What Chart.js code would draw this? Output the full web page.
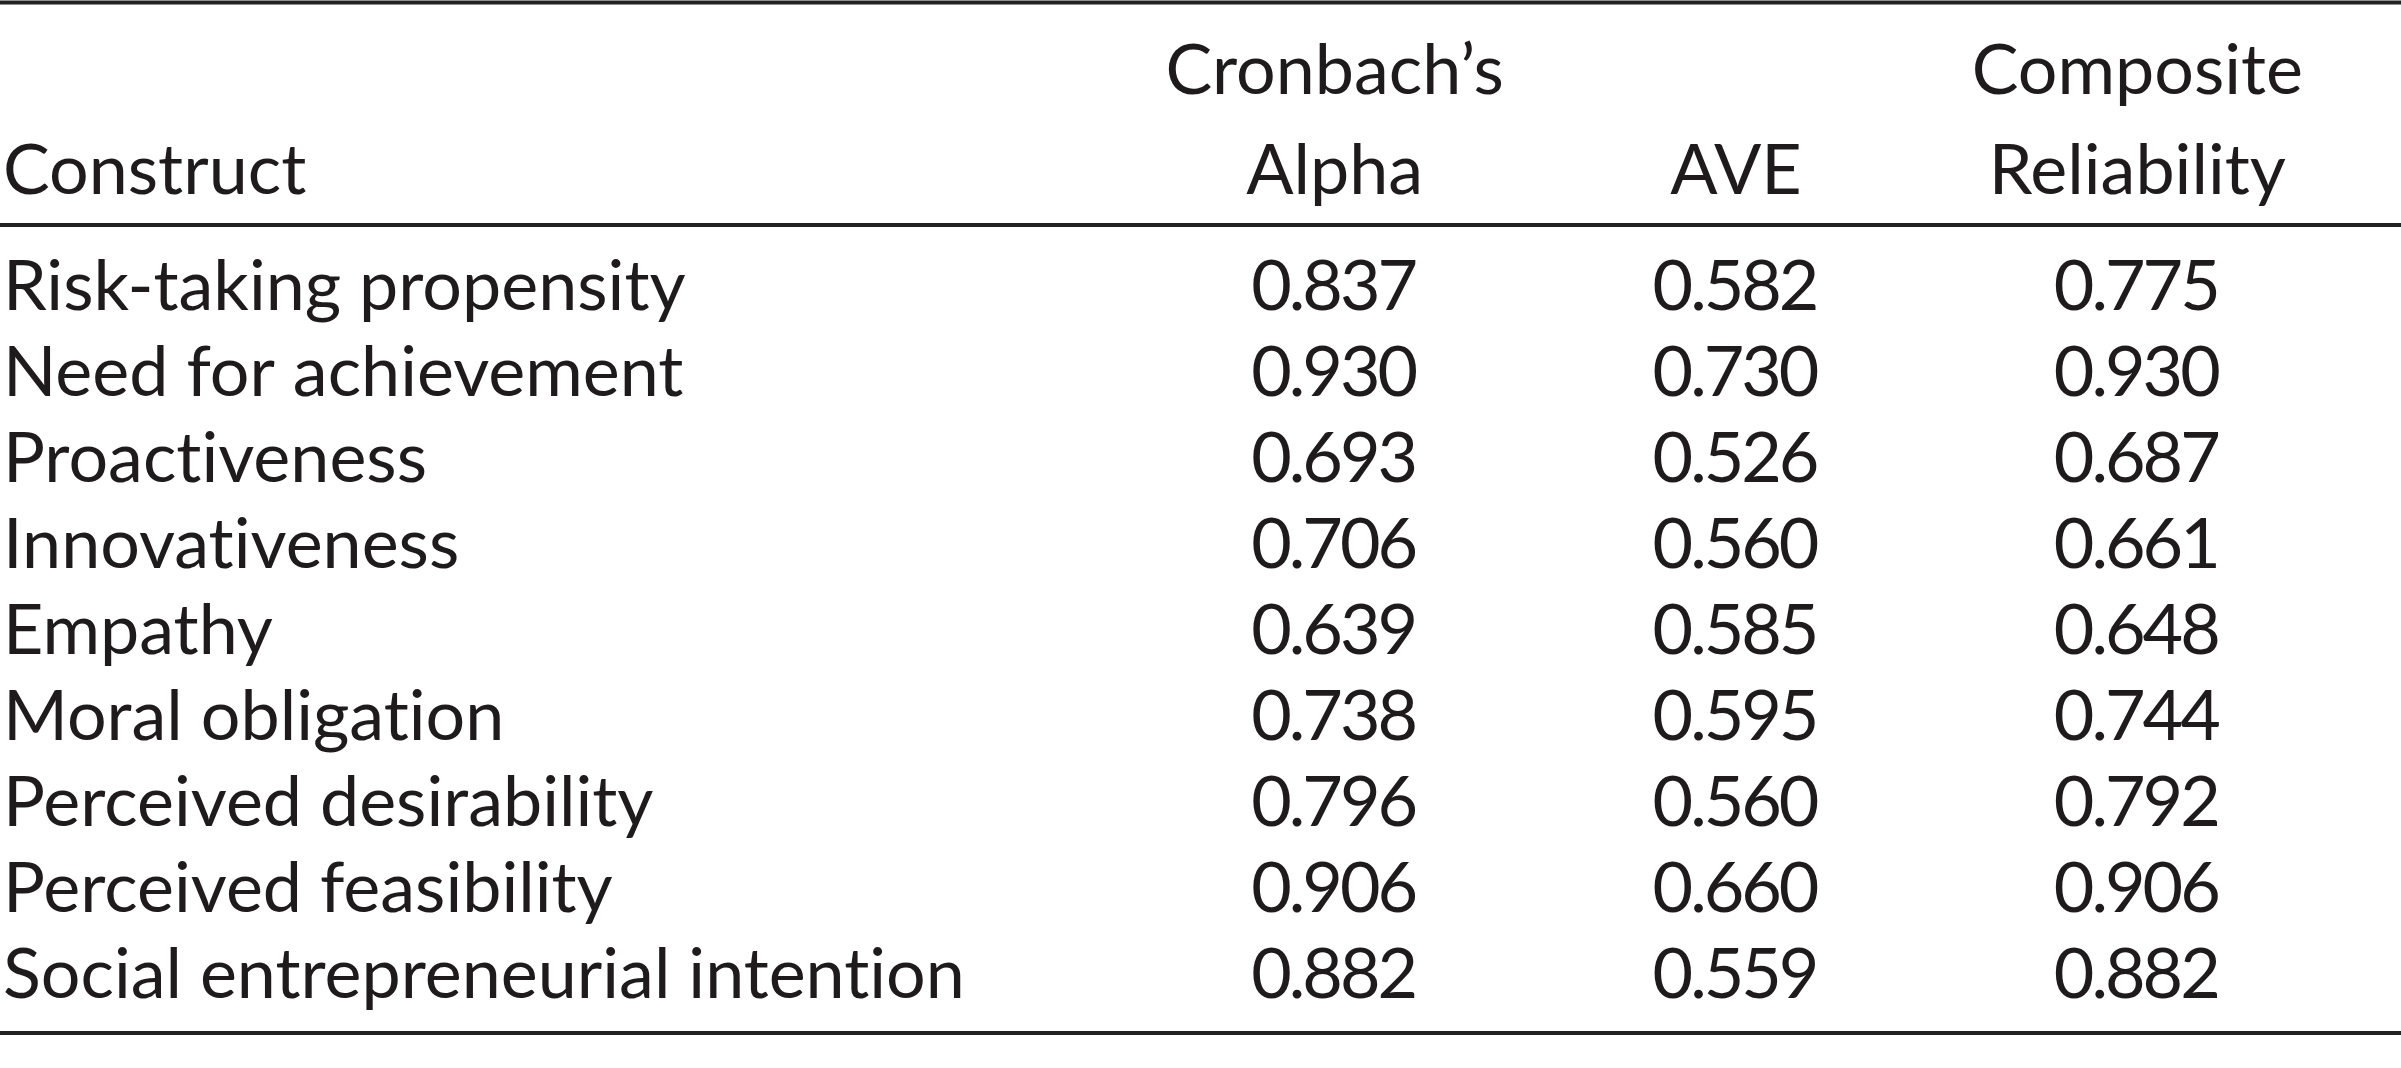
<!DOCTYPE html>
<html>
<head>
<meta charset="utf-8">
<script src="https://cdn.jsdelivr.net/npm/chart.js@4/dist/chart.umd.min.js"></script>
<style>
  html, body { margin: 0; padding: 0; background: #fff; overflow: hidden; }
  canvas { display: block; }
</style>
</head>
<body>
<canvas id="table-chart" width="2401" height="1068"></canvas>
<script>
'use strict';

const stubHeader = 'Construct';
const constructs = [
  'Risk-taking propensity',
  'Need for achievement',
  'Proactiveness',
  'Innovativeness',
  'Empathy',
  'Moral obligation',
  'Perceived desirability',
  'Perceived feasibility',
  'Social entrepreneurial intention',
];
const columnHeads = ['Cronbach’s Alpha', 'AVE', 'Composite Reliability'];
const alphaValues = [0.837, 0.930, 0.693, 0.706, 0.639, 0.738, 0.796, 0.906, 0.882];
const aveValues = [0.582, 0.730, 0.526, 0.560, 0.585, 0.595, 0.560, 0.660, 0.559];
const crValues = [0.775, 0.930, 0.687, 0.661, 0.648, 0.744, 0.792, 0.906, 0.882];

const INK = '#1f1b1c';
const FONT = { family: 'Lato', size: 70, lineHeight: 100 / 70 };
const X_PAD = 23;

function columnData(values, col) {
  return values.map((v, i) => ({ x: columnHeads[col], y: constructs[i], v }));
}

// draws cell text, the stub header and the three rules
const tablePlugin = {
  id: 'tableText',
  beforeDraw(chart) {
    // no "ti" ligatures, closer to the printed table
    chart.ctx.textRendering = 'optimizeSpeed';
  },
  afterDatasetsDraw(chart) {
    const { ctx, chartArea, scales } = chart;
    ctx.save();
    ctx.fillStyle = INK;
    ctx.font = `${FONT.size}px ${FONT.family}`;
    ctx.textAlign = 'left';
    ctx.textBaseline = 'middle';
    const headerMid = scales.x.bottom - X_PAD - (FONT.size * FONT.lineHeight) / 2;
    ctx.fillText(stubHeader, scales.y.left, headerMid);

    ctx.textAlign = 'center';
    ctx.letterSpacing = '-3px';
    chart.data.datasets.forEach((ds, di) => {
      chart.getDatasetMeta(di).data.forEach((el, i) => {
        ctx.fillText(ds.data[i].v.toFixed(3), el.x - 1.5, el.y);
      });
    });
    ctx.letterSpacing = '0px';

    ctx.strokeStyle = '#222';
    ctx.lineWidth = 4;
    [2.5, chartArea.top - 19, chartArea.bottom + 15].forEach(y => {
      ctx.beginPath();
      ctx.moveTo(0, y);
      ctx.lineTo(chart.width, y);
      ctx.stroke();
    });
    ctx.restore();
  },
};

new Chart(document.getElementById('table-chart'), {
  type: 'scatter',
  data: {
    datasets: [
      { data: columnData(alphaValues, 0), pointRadius: 0 },
      { data: columnData(aveValues, 1), pointRadius: 0 },
      { data: columnData(crValues, 2), pointRadius: 0 },
    ],
  },
  options: {
    responsive: false,
    animation: false,
    devicePixelRatio: 1,
    layout: { padding: { left: 3, right: 63, top: 0, bottom: 18 } },
    plugins: { legend: { display: false }, tooltip: { enabled: false } },
    scales: {
      x: {
        type: 'category',
        labels: columnHeads,
        position: 'top',
        offset: true,
        grid: { display: false, drawTicks: false },
        border: { display: false },
        ticks: {
          color: INK,
          font: FONT,
          padding: X_PAD,
          maxRotation: 0,
          autoSkip: false,
          callback: (_, index) => columnHeads[index].split(' '),
        },
        afterFit: scale => { scale.height = 244; },
      },
      y: {
        type: 'category',
        labels: constructs,
        offset: true,
        grid: { display: false, drawTicks: false },
        border: { display: false },
        ticks: { color: INK, font: FONT, padding: 0, crossAlign: 'far', autoSkip: false },
        afterFit: scale => { scale.width = 1131; },
      },
    },
  },
  plugins: [tablePlugin],
});
</script>
</body>
</html>
